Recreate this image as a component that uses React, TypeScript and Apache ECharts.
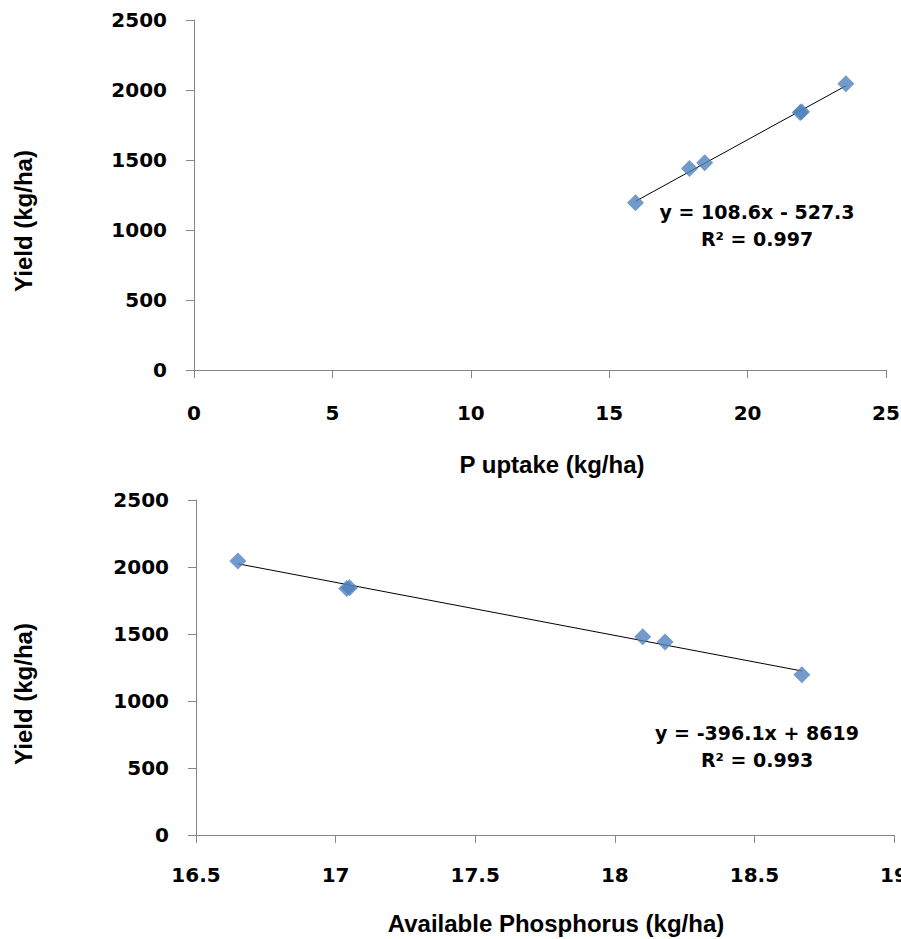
import React, { useEffect, useRef } from "react";
import * as echarts from "echarts";

// Shared yield values (kg/ha)
const yieldValues = [2045, 1845, 1840, 1480, 1440, 1195];
// Top chart: P uptake (kg/ha)
const pUptake = [23.55, 21.95, 21.9, 18.45, 17.9, 15.95];
// Bottom chart: Available phosphorus (kg/ha)
const availP = [16.65, 17.05, 17.04, 18.1, 18.18, 18.67];

// Trend line end points
const topTrendX = [15.95, 23.55];
const topTrendY = [1205, 2030];
const bottomTrendX = [16.65, 18.67];
const bottomTrendY = [2024, 1224];

const topEquation = "y = 108.6x - 527.3";
const topR2 = "R\u00b2 = 0.997";
const bottomEquation = "y = -396.1x + 8619";
const bottomR2 = "R\u00b2 = 0.993";

const yTitle = "Yield (kg/ha)";
const topXTitle = "P uptake (kg/ha)";
const bottomXTitle = "Available Phosphorus (kg/ha)";

const MARKER = "#4f81bd";
const AXIS = "#868686";
const TICK_FONT = "DejaVu Sans";
const TITLE_FONT = "Liberation Sans";

export default function App() {
  const ref = useRef<HTMLDivElement>(null);

  useEffect(() => {
    document.body.style.margin = "0";
    if (!ref.current) return;
    const chart = echarts.init(ref.current, null, { renderer: "svg" });

    const axisCommon = {
      type: "value" as const,
      splitLine: { show: false },
      axisLine: { show: true, onZero: false, lineStyle: { color: AXIS, width: 1 } },
      axisTick: { show: true, inside: false, length: 8, lineStyle: { color: AXIS } },
    };
    const labelStyle = {
      color: "#000",
      fontFamily: TICK_FONT,
      fontWeight: "bold" as const,
      fontSize: 20,
      formatter: (v: number) => String(v),
    };

    const zip = (xs: number[], ys: number[]) => xs.map((x, i) => [x, ys[i]]);

    const textStyle = (text: string, font: string, size: number) => ({
      text,
      fontFamily: font,
      fontWeight: "bold",
      fontSize: size,
      fill: "#000",
      align: "center",
      verticalAlign: "middle",
    });

    chart.setOption({
      animation: false,
      backgroundColor: "#fff",
      grid: [
        { left: 194, top: 20, width: 692, height: 350, containLabel: false, outerBoundsMode: "none" },
        { left: 196, top: 500, width: 698, height: 335, containLabel: false, outerBoundsMode: "none" },
      ],
      xAxis: [
        {
          ...axisCommon,
          gridIndex: 0,
          min: 0,
          max: 25,
          interval: 5,
          axisLabel: { ...labelStyle, margin: 33, showMaxLabel: true },
        },
        {
          ...axisCommon,
          gridIndex: 1,
          min: 16.5,
          max: 19,
          interval: 0.5,
          axisLabel: { ...labelStyle, margin: 30, showMaxLabel: true },
        },
      ],
      yAxis: [
        {
          ...axisCommon,
          gridIndex: 0,
          min: 0,
          max: 2500,
          interval: 500,
          axisLabel: { ...labelStyle, margin: 27 },
        },
        {
          ...axisCommon,
          gridIndex: 1,
          min: 0,
          max: 2500,
          interval: 500,
          axisLabel: { ...labelStyle, margin: 27 },
        },
      ],
      series: [
        {
          type: "line",
          xAxisIndex: 0,
          yAxisIndex: 0,
          data: zip(topTrendX, topTrendY),
          showSymbol: false,
          symbol: "none",
          lineStyle: { color: "#000", width: 1 },
          z: 1,
        },
        {
          type: "scatter",
          xAxisIndex: 0,
          yAxisIndex: 0,
          data: zip(pUptake, yieldValues),
          symbol: "diamond",
          symbolSize: 17,
          itemStyle: { color: MARKER },
          z: 2,
        },
        {
          type: "line",
          xAxisIndex: 1,
          yAxisIndex: 1,
          data: zip(bottomTrendX, bottomTrendY),
          showSymbol: false,
          symbol: "none",
          lineStyle: { color: "#000", width: 1 },
          z: 1,
        },
        {
          type: "scatter",
          xAxisIndex: 1,
          yAxisIndex: 1,
          data: zip(availP, yieldValues),
          symbol: "diamond",
          symbolSize: 17,
          itemStyle: { color: MARKER },
          z: 2,
        },
      ],
      graphic: [
        { type: "text", x: 757, y: 212, style: textStyle(topEquation, TICK_FONT, 19) },
        { type: "text", x: 757, y: 239, style: textStyle(topR2, TICK_FONT, 19) },
        { type: "text", x: 757, y: 733, style: textStyle(bottomEquation, TICK_FONT, 19) },
        { type: "text", x: 757, y: 760, style: textStyle(bottomR2, TICK_FONT, 19) },
        { type: "text", x: 552, y: 464, style: textStyle(topXTitle, TITLE_FONT, 24) },
        { type: "text", x: 556, y: 923, style: textStyle(bottomXTitle, TITLE_FONT, 24) },
        { type: "text", x: 23, y: 221, rotation: Math.PI / 2, style: textStyle(yTitle, TITLE_FONT, 24) },
        { type: "text", x: 23, y: 694, rotation: Math.PI / 2, style: textStyle(yTitle, TITLE_FONT, 24) },
      ],
    });

    return () => chart.dispose();
  }, []);

  return <div ref={ref} style={{ width: 901, height: 939 }} />;
}
